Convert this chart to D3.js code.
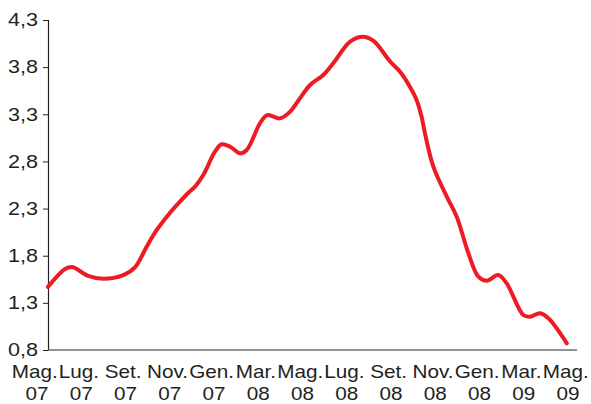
<!DOCTYPE html>
<html>
<head>
<meta charset="utf-8">
<script src="https://cdn.jsdelivr.net/npm/d3@7"></script>
<style>
  body { margin: 0; background: #fff; }
  text { font-family: "Liberation Sans", Arial, sans-serif; fill: #231f20; }
</style>
</head>
<body>
<svg id="chart" width="591" height="404"></svg>
<script>
// months since Mag. 07 (fractional) and index value
var months = [0, 0.79, 1.10, 1.25, 1.86, 2.56, 3.48, 4.02, 4.56, 5.03, 5.56, 6.10, 6.49, 6.80,
	7.18, 7.72, 8.03, 8.42, 8.88, 9.19, 9.80, 10.14, 10.73, 11.19, 11.65, 12.12, 12.73,
	13.19, 13.97, 14.55, 15.04, 15.82, 16.28, 16.74, 17.05, 17.28, 17.43, 17.82, 18.44, 18.90,
	19.44, 19.90, 20.29, 20.82, 21.21, 21.98, 22.29, 22.75, 23.14, 23.99];
var values = [1.47, 1.66, 1.68, 1.67, 1.585, 1.556, 1.595, 1.677, 1.896, 2.073, 2.232, 2.373, 2.468, 2.532,
	2.656, 2.903, 2.982, 2.956, 2.886, 2.921, 3.204, 3.292, 3.257, 3.327, 3.469, 3.611, 3.717,
	3.841, 4.070, 4.123, 4.080, 3.86, 3.75, 3.59, 3.45, 3.27, 3.10, 2.744, 2.426, 2.214,
	1.826, 1.578, 1.535, 1.595, 1.507, 1.171, 1.153, 1.189, 1.136, 0.871];

var yTicks = [0.8, 1.3, 1.8, 2.3, 2.8, 3.3, 3.8, 4.3];
var monthLabels = ["Mag.", "Lug.", "Set.", "Nov.", "Gen.", "Mar.", "Mag.", "Lug.", "Set.", "Nov.", "Gen.", "Mar.", "Mag."];
var yearLabels = ["07", "07", "07", "07", "07", "08", "08", "08", "08", "08", "08", "09", "09"];

var svg = d3.select("#chart");
var x = d3.scaleLinear().domain([0, 24]).range([48, 567]);
var y = d3.scaleLinear().domain([0.8, 4.3]).range([350, 20]);
var xl = d3.scalePoint().domain(d3.range(monthLabels.length)).range([37, 568]);
var sx = 1.15; // the lettering in the picture is a bit wider than the font

// y axis
var yAxis = d3.axisLeft(y)
	.tickValues(yTicks)
	.tickSize(5)
	.tickPadding(5)
	.tickFormat(function(d){ return d3.format(".1f")(d).replace(".", ","); });
var gy = svg.append("g").attr("transform", "translate(48,0)").call(yAxis);
gy.select(".domain").attr("stroke", "#231f20").attr("stroke-width", 1.2);
gy.selectAll(".tick line").attr("stroke", "#231f20");
gy.selectAll(".tick text")
	.style("font-size", "18px")
	.attr("fill", "#231f20")
	.attr("x", -10 / 1.2)
	.attr("transform", "scale(1.2,1)");

// x axis line
svg.append("line")
	.attr("x1", 48).attr("x2", 577)
	.attr("y1", y(0.8)).attr("y2", y(0.8))
	.attr("stroke", "#6d6e71")
	.attr("stroke-width", 1.5);

// category labels, two lines each
var lab = svg.append("g").selectAll("g")
	.data(monthLabels)
	.enter().append("g")
	.attr("transform", function(d, i){ return "translate(" + xl(i) + ",0) scale(" + sx + ",1)"; });
lab.append("text")
	.attr("y", 378)
	.attr("x", -2)
	.attr("text-anchor", "middle")
	.style("font-size", "18px")
	.text(function(d){ return d; });
lab.append("text")
	.attr("y", 400)
	.attr("text-anchor", "middle")
	.style("font-size", "18px")
	.text(function(d, i){ return yearLabels[i]; });

// the series
var line = d3.line()
	.x(function(d, i){ return x(months[i]); })
	.y(function(d){ return y(d); })
	.curve(d3.curveCatmullRom.alpha(0.5));

svg.append("path")
	.datum(values)
	.attr("fill", "none")
	.attr("stroke", "#ed1c24")
	.attr("stroke-width", 4)
	.attr("stroke-linejoin", "round")
	.attr("stroke-linecap", "round")
	.attr("d", line);
</script>
</body>
</html>
